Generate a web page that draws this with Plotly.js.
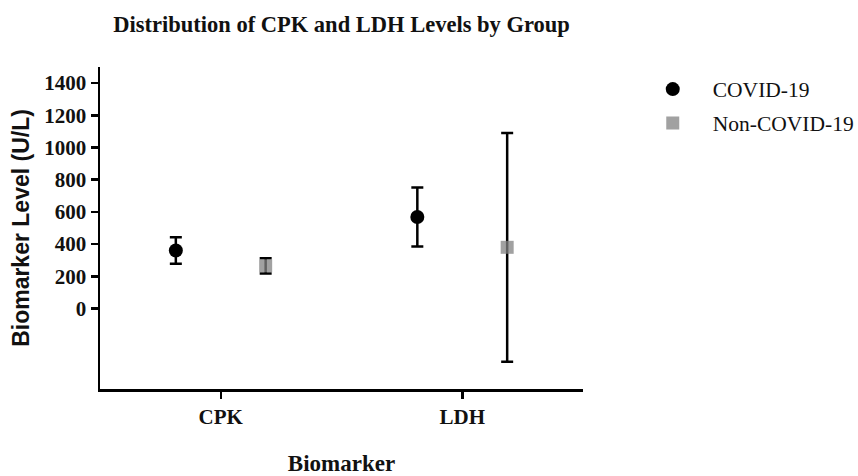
<!DOCTYPE html>
<html>
<head>
<meta charset="utf-8">
<script src="https://cdn.plot.ly/plotly-3.0.1.min.js"></script>
<style>html,body{margin:0;padding:0;background:#fff;}#chart{width:858px;height:476px;}</style>
</head>
<body>
<div id="chart"></div>
<script>
// Data
const categories = ['CPK', 'LDH'];
const covidMean = [360, 568];
const covidErr = [82, 183];
const nonCovidMean = [265, 380];
const nonCovidErr = [47, 710];
const yTickVals = [0, 200, 400, 600, 800, 1000, 1200, 1400];

const groupOffset = 0.186;
const idx = categories.map((c, i) => i);

const serif = 'Liberation Serif, Times New Roman, serif';

const traces = [
  {
    type: 'scatter', mode: 'markers', name: 'COVID-19', legendgroup: 'a',
    x: idx.map(i => i - groupOffset), y: covidMean,
    marker: {symbol: 'circle', size: 14, color: '#000000'},
    error_y: {type: 'data', array: covidErr, visible: true, color: '#000000', thickness: 2.5, width: 6}
  },
  {
    type: 'scatter', mode: 'markers', name: 'Non-COVID-19', legendgroup: 'b',
    x: idx.map(i => i + groupOffset), y: nonCovidMean,
    marker: {symbol: 'square', size: 13, color: 'rgba(130,130,130,0.75)'},
    error_y: {type: 'data', array: nonCovidErr, visible: true, color: '#000000', thickness: 2.5, width: 6}
  }
];

const layout = {
  width: 858, height: 476,
  margin: {l: 100, r: 275, t: 67, b: 87, autoexpand: false},
  paper_bgcolor: '#ffffff', plot_bgcolor: '#ffffff',
  showlegend: true,
  title: {
    text: '<b>Distribution of CPK and LDH Levels by Group</b>',
    font: {family: serif, size: 22.5, color: '#111111'},
    x: 0.5, xref: 'paper', xanchor: 'center', y: 0.95, yref: 'container', yanchor: 'middle'
  },
  xaxis: {
    range: [-0.5, 1.5],
    tickmode: 'array', tickvals: idx, ticktext: categories.map(c => '<b>' + c + '</b>'),
    showgrid: false, zeroline: false,
    showline: true, linecolor: '#000000', linewidth: 2.5,
    ticks: 'outside', ticklen: 7, tickwidth: 2.5, tickcolor: '#000000',
    tickfont: {family: serif, size: 21, color: '#111111'},
    title: {text: '<b>Biomarker</b>', font: {family: serif, size: 23, color: '#111111'}, standoff: 38}
  },
  yaxis: {
    range: [-500, 1500],
    tickmode: 'array', tickvals: yTickVals, ticktext: yTickVals.map(v => '<b>' + v + '</b>'),
    showgrid: false, zeroline: false,
    showline: true, linecolor: '#000000', linewidth: 2.5,
    ticks: 'outside', ticklen: 7, tickwidth: 2.5, tickcolor: '#000000',
    tickfont: {family: serif, size: 21, color: '#111111'},
    title: {text: '<b>Biomarker Level (U/L)</b>', font: {family: 'Liberation Sans, Arial, sans-serif', size: 23, color: '#111111'}, standoff: 8}
  },
  legend: {
    x: 1.103, xanchor: 'left', y: 0.995, yanchor: 'top',
    font: {family: serif, size: 21.5, color: '#111111'},
    tracegroupgap: 3, itemsizing: 'trace', itemwidth: 70, bgcolor: 'rgba(0,0,0,0)'
  }
};

Plotly.newPlot('chart', traces, layout, {displayModeBar: false, staticPlot: true});
</script>
</body>
</html>
